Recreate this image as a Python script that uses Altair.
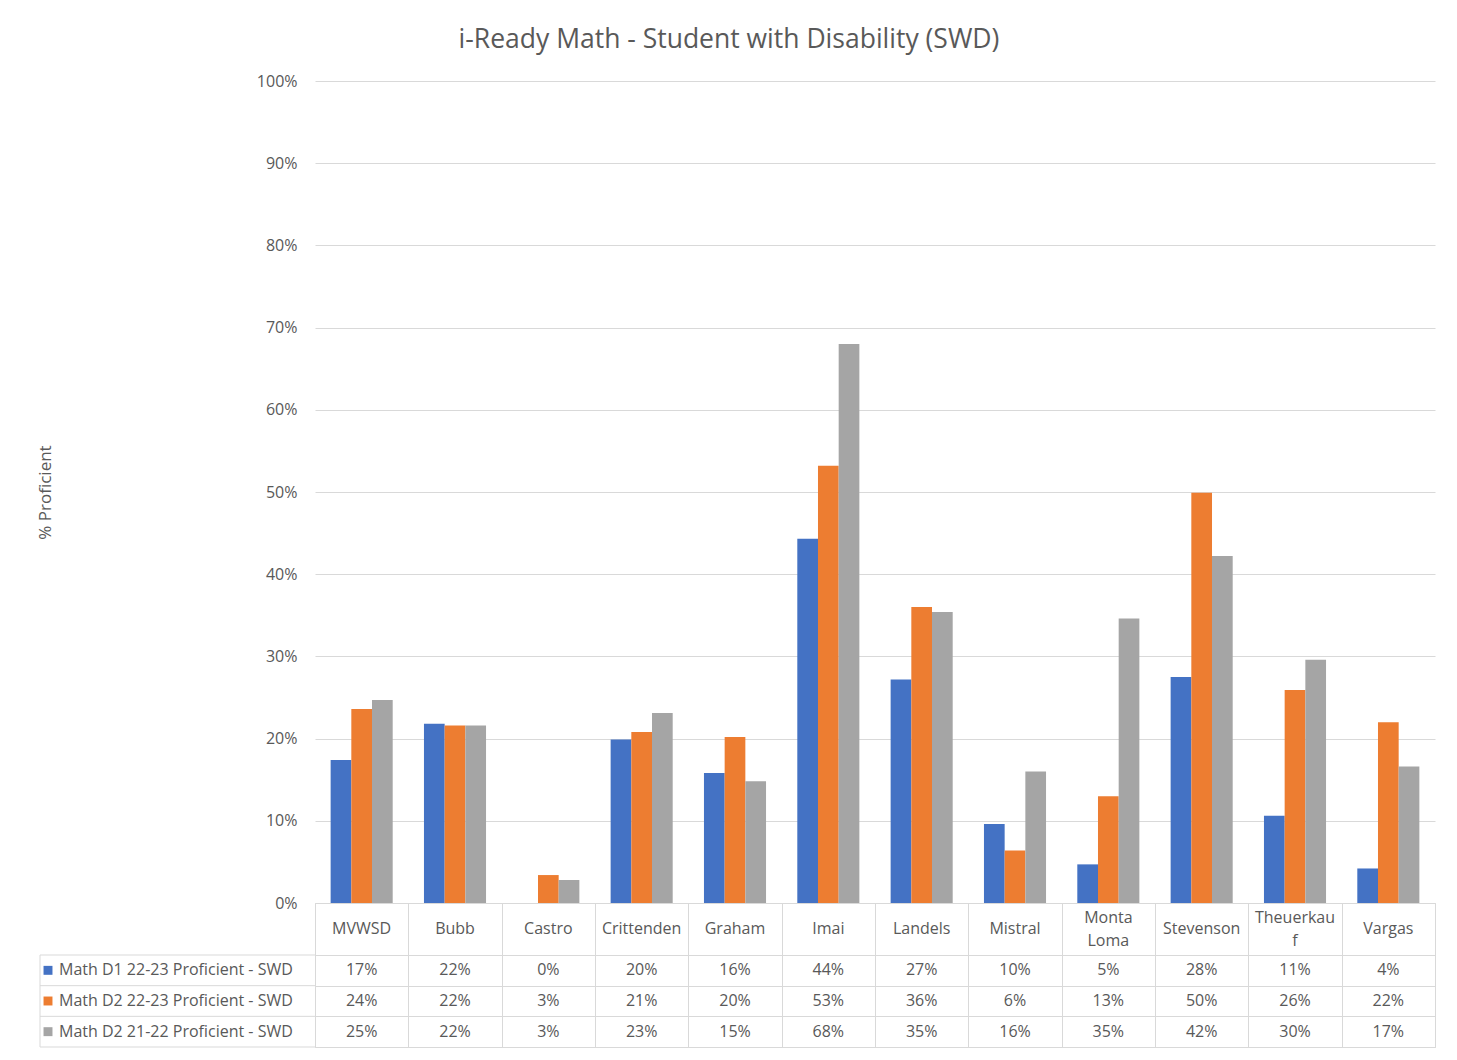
import altair as alt
import pandas as pd

schools = ["MVWSD", "Bubb", "Castro", "Crittenden", "Graham", "Imai", "Landels",
           "Mistral", "Monta Loma", "Stevenson", "Theuerkauf", "Vargas"]
header_labels = ["MVWSD", "Bubb", "Castro", "Crittenden", "Graham", "Imai", "Landels",
                 "Mistral", "Monta\nLoma", "Stevenson", "Theuerkau\nf", "Vargas"]
series = ["Math D1 22-23 Proficient - SWD",
          "Math D2 22-23 Proficient - SWD",
          "Math D2 21-22 Proficient - SWD"]
d1_2223 = [17.4, 21.8, 0.0, 19.9, 15.8, 44.3, 27.2, 9.6, 4.7, 27.5, 10.6, 4.2]
d2_2223 = [23.6, 21.6, 3.4, 20.8, 20.2, 53.2, 36.0, 6.4, 13.0, 49.9, 25.9, 22.0]
d2_2122 = [24.7, 21.6, 2.8, 23.1, 14.8, 68.0, 35.4, 16.0, 34.6, 42.2, 29.6, 16.6]
colors = ["#4472C4", "#ED7D31", "#A5A5A5"]
y_ticks = [0, 0.1, 0.2, 0.3, 0.4, 0.5, 0.6, 0.7, 0.8, 0.9, 1.0]

rows = []
for s, vals in zip(series, [d1_2223, d2_2223, d2_2122]):
    for sch, v in zip(schools, vals):
        rows.append({"school": sch, "series": s, "value": v / 100})
df = pd.DataFrame(rows)
hdr = pd.DataFrame({"school": schools, "header": header_labels,
                    "lines": [h.count("\n") + 1 for h in header_labels]})
leg = pd.DataFrame({"series": series})
edge = pd.DataFrame({"k": [0]})

FONT = "Open Sans"
TXT = "#595959"
GRID = "#D9D9D9"
W = 1120
H_PLOT = 822
H_HEAD = 52
H_TAB = 92
LH = 23

color = alt.Color("series:N", scale=alt.Scale(domain=series, range=colors), legend=None)

bars = alt.Chart(df, view=alt.ViewBackground(stroke="transparent")).mark_bar().encode(
    x=alt.X("school:N", sort=schools, axis=None,
            scale=alt.Scale(paddingInner=0.335, paddingOuter=0.1675)),
    xOffset=alt.XOffset("series:N", sort=series, scale=alt.Scale(paddingInner=0, paddingOuter=0)),
    y=alt.Y("value:Q", scale=alt.Scale(domain=[0, 1], nice=False),
            axis=alt.Axis(values=y_ticks, format=".0%", title="% Proficient", grid=True,
                          gridColor=GRID, domain=False, ticks=False, labelPadding=18,
                          labelFontSize=16, labelColor=TXT, labelFont=FONT,
                          titleFont=FONT, titleFontSize=17, titleColor=TXT,
                          titleFontWeight="normal", titleX=-270, titleY=411, titleAngle=270,
                          titleAlign="center", titleBaseline="middle")),
    color=color,
).properties(
    width=W, height=H_PLOT,
    title=alt.TitleParams("i-Ready Math - Student with Disability (SWD)", font=FONT,
                          fontSize=26.5, fontWeight="normal", color=TXT, anchor="middle",
                          frame="group", dx=-146, offset=20),
)

grid_axis = alt.Axis(title=None, labels=False, ticks=False, domain=False, grid=True,
                     gridColor=GRID, tickBand="extent")
x_tab = alt.X("school:N", sort=schools, scale=alt.Scale(paddingInner=0, paddingOuter=0),
              axis=grid_axis)
y_tab = alt.Y("series:N", sort=series, scale=alt.Scale(paddingInner=0, paddingOuter=0),
              axis=grid_axis)

head_one = alt.Chart(hdr).mark_text(
    font=FONT, fontSize=16, color=TXT, baseline="middle"
).encode(x=x_tab, text="header:N").transform_filter("datum.lines == 1")
head_two = alt.Chart(hdr).mark_text(
    font=FONT, fontSize=16, color=TXT, lineBreak="\n", baseline="middle", lineHeight=LH
).encode(x=x_tab, y=alt.value(H_HEAD / 2 - LH / 2), text="header:N").transform_filter(
    "datum.lines == 2")
header = alt.layer(head_one, head_two).properties(
    width=W, height=H_HEAD, view=alt.ViewBackground(stroke=GRID))

cells = alt.Chart(df).mark_text(font=FONT, fontSize=16, color=TXT).encode(
    x=x_tab, y=y_tab, text=alt.Text("value:Q", format=".0%"),
)
leg_rows = alt.Chart(leg).mark_rule(color=GRID).encode(
    x=alt.value(-275), x2=alt.value(0),
    y=alt.Y("series:N", sort=series, bandPosition=0,
            scale=alt.Scale(paddingInner=0, paddingOuter=0), axis=grid_axis),
)
leg_bottom = alt.Chart(edge).mark_rule(color=GRID).encode(
    x=alt.value(-275), x2=alt.value(0), y=alt.value(H_TAB))
leg_left = alt.Chart(edge).mark_rule(color=GRID).encode(
    x=alt.value(-275), y=alt.value(0), y2=alt.value(H_TAB))
leg_sq = alt.Chart(leg).mark_square(size=80, opacity=1).encode(
    x=alt.value(-267), y=y_tab, color=color)
leg_txt = alt.Chart(leg).mark_text(font=FONT, fontSize=16, color=TXT, align="left").encode(
    x=alt.value(-256), y=y_tab, text="series:N")

table = alt.layer(cells, leg_rows, leg_bottom, leg_left, leg_sq, leg_txt).properties(
    width=W, height=H_TAB, view=alt.ViewBackground(stroke=GRID))

chart = alt.vconcat(bars, header, table, spacing=0, bounds="flush").resolve_scale(
    x="independent", y="independent"
).configure(
    padding={"left": 27, "top": 18, "right": 10, "bottom": 5},
    background="white",
)

chart.save("out.html", embed_options={"renderer": "svg", "actions": False})
